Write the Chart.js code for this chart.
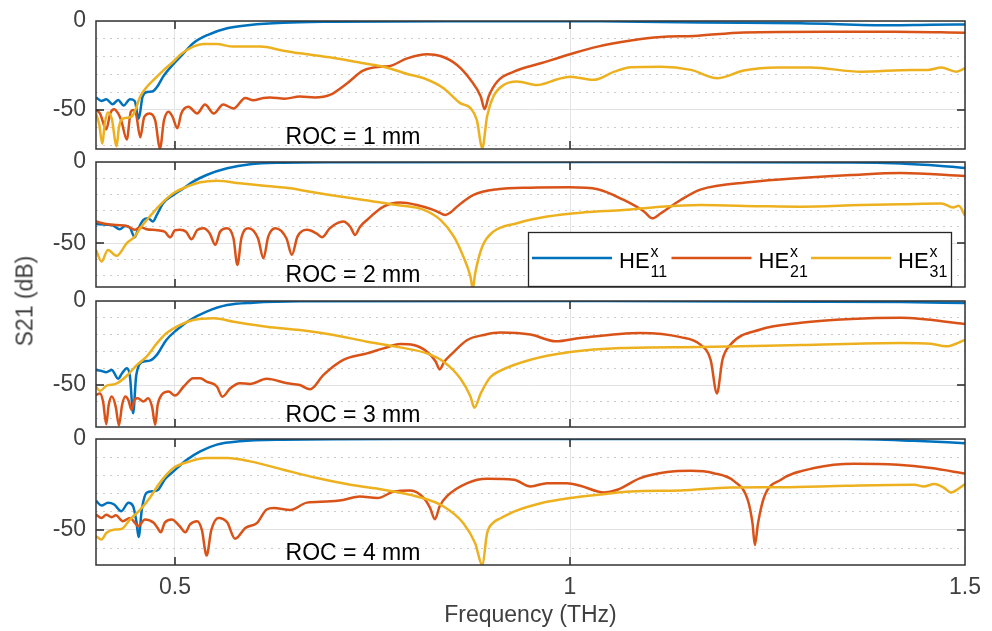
<!DOCTYPE html>
<html>
<head>
<meta charset="utf-8">
<script src="https://cdn.jsdelivr.net/npm/chart.js@4.4.1/dist/chart.umd.min.js"></script>
<style>
  body { margin: 0; background: #fff; }
  #wrap { position: relative; width: 992px; height: 631px; overflow: hidden; font-family: "Liberation Sans", Arial, sans-serif; }
  #wrap canvas { position: absolute; left: 0; }
  #ylabel { position: absolute; left: 25px; top: 301px; transform: translate(-50%, -50%) rotate(-90deg);
            font-size: 23px; color: #404040; white-space: nowrap; }
</style>
</head>
<body>
<div id="wrap">
  <canvas id="p1"></canvas>
  <canvas id="p2"></canvas>
  <canvas id="p3"></canvas>
  <canvas id="p4"></canvas>
  <div id="ylabel">S21 (dB)</div>
</div>
<script>
// ---- data: [frequency THz, S21 dB] ----
const roc1He11 = [[0.400,-43],[0.407,-45],[0.413,-44],[0.421,-46.8],[0.428,-44.4],[0.435,-47.5],[0.443,-44],[0.449,-45],[0.454,-55],[0.459,-42.5],[0.465,-39.9],[0.471,-39.7],[0.477,-37.3],[0.485,-31.3],[0.497,-24.7],[0.509,-19.1],[0.523,-12.5],[0.541,-7.9],[0.566,-4.1],[0.595,-2.2],[0.637,-0.95],[0.696,-0.4],[0.849,-0.1],[1.039,-0.2],[1.165,-0.9],[1.292,-1.3],[1.406,-2.4],[1.457,-2.1],[1.5,-2.0]];
const roc1He21 = [[0.400,-50],[0.405,-52],[0.413,-61],[0.418,-52],[0.423,-49.6],[0.428,-52],[0.432,-56],[0.439,-66.7],[0.444,-51],[0.447,-50],[0.451,-53],[0.456,-65.4],[0.461,-54],[0.468,-52],[0.475,-56],[0.481,-71.7],[0.486,-56],[0.492,-51],[0.497,-54],[0.503,-60.3],[0.508,-52],[0.517,-48.3],[0.528,-52],[0.538,-47],[0.549,-52],[0.561,-47],[0.574,-49.2],[0.589,-43.3],[0.599,-44.6],[0.612,-43.3],[0.620,-43],[0.639,-43.7],[0.658,-42.5],[0.677,-43],[0.696,-41.6],[0.718,-35],[0.738,-27.9],[0.760,-25.7],[0.770,-25.5],[0.794,-21],[0.819,-18.7],[0.836,-19.7],[0.857,-24.7],[0.874,-33],[0.887,-42.5],[0.892,-49.6],[0.897,-42.5],[0.908,-34],[0.929,-28.5],[0.963,-23.8],[1.0,-18.7],[1.035,-14.4],[1.077,-11],[1.115,-9],[1.157,-8.4],[1.220,-6.4],[1.326,-6],[1.410,-6],[1.5,-6.6]];
const roc1He31 = [[0.400,-52],[0.404,-58],[0.408,-69.1],[0.411,-58],[0.415,-51.5],[0.420,-55],[0.426,-70.4],[0.429,-60],[0.432,-55.6],[0.438,-54.5],[0.445,-53.8],[0.449,-51],[0.456,-42.5],[0.464,-37.3],[0.473,-33.1],[0.485,-27.9],[0.498,-22.8],[0.508,-18.5],[0.523,-14.4],[0.536,-12.9],[0.553,-13],[0.574,-14.4],[0.608,-14.4],[0.637,-16.7],[0.658,-18.2],[0.696,-20.4],[0.739,-23.8],[0.764,-25.7],[0.794,-29.8],[0.815,-32.2],[0.840,-37.8],[0.861,-46.2],[0.874,-49],[0.882,-55.6],[0.889,-71.5],[0.895,-53.7],[0.903,-42.5],[0.916,-36],[0.933,-34],[0.958,-36],[0.984,-32.8],[1.0,-31.3],[1.030,-33.1],[1.056,-28.5],[1.077,-26],[1.115,-25.7],[1.153,-27.5],[1.187,-32.2],[1.220,-27.9],[1.263,-26.2],[1.305,-26.2],[1.368,-28.5],[1.432,-27.5],[1.453,-27.5],[1.470,-26.2],[1.489,-28.5],[1.5,-26.6]];

const roc2He11 = [[0.400,-38.2],[0.413,-38.6],[0.421,-39],[0.430,-41.4],[0.437,-39.4],[0.443,-40.5],[0.449,-46.4],[0.453,-41.8],[0.460,-35.7],[0.466,-34.7],[0.472,-36.7],[0.477,-32.6],[0.485,-25.4],[0.498,-20.3],[0.511,-16.2],[0.523,-12.1],[0.540,-8],[0.566,-3.9],[0.595,-1.4],[0.637,-0.4],[0.696,-0.1],[1.039,0],[1.356,-0.3],[1.419,-1],[1.470,-2.5],[1.5,-3.7]];
const roc2He21 = [[0.400,-36.7],[0.413,-38.2],[0.426,-38.8],[0.439,-39.4],[0.449,-41.8],[0.456,-40],[0.464,-41.4],[0.478,-42],[0.487,-43],[0.494,-46.4],[0.500,-42],[0.506,-41.8],[0.514,-43],[0.521,-47.6],[0.528,-42],[0.536,-40.8],[0.544,-44],[0.551,-51],[0.557,-43],[0.566,-40.8],[0.574,-47],[0.579,-63.4],[0.584,-47],[0.593,-40.8],[0.605,-47],[0.612,-59.3],[0.618,-46],[0.627,-40.8],[0.641,-47],[0.648,-57.2],[0.655,-46],[0.667,-41.8],[0.679,-44],[0.686,-46.4],[0.696,-40.8],[0.713,-36.7],[0.722,-40],[0.728,-44.9],[0.734,-40],[0.743,-35.7],[0.764,-27.5],[0.785,-25],[0.806,-26.5],[0.827,-29.5],[0.836,-31.5],[0.842,-32.6],[0.849,-31],[0.857,-27.5],[0.878,-20.3],[0.908,-16.8],[0.950,-15.8],[1.0,-15.6],[1.035,-16.8],[1.068,-23.4],[1.094,-30.6],[1.104,-34.7],[1.115,-31.6],[1.140,-23.4],[1.165,-17],[1.229,-12.3],[1.292,-9.8],[1.356,-8],[1.419,-6.8],[1.5,-8.6]];
const roc2He31 = [[0.400,-54.2],[0.407,-61.3],[0.415,-54.2],[0.426,-57.8],[0.439,-50],[0.449,-46],[0.456,-40.8],[0.468,-33.6],[0.481,-26.5],[0.498,-19.3],[0.515,-15.2],[0.532,-12.5],[0.553,-11.5],[0.582,-13.1],[0.616,-14.8],[0.646,-16.2],[0.671,-18.3],[0.696,-20.3],[0.739,-23.4],[0.781,-26.5],[0.815,-29.5],[0.836,-35.7],[0.853,-46],[0.865,-58.3],[0.874,-70.6],[0.877,-78],[0.880,-68.5],[0.889,-52.1],[0.903,-42.9],[0.933,-37.7],[0.971,-33.6],[1.018,-31],[1.068,-29.5],[1.115,-27.5],[1.165,-26.5],[1.241,-27.2],[1.292,-27.5],[1.368,-26.5],[1.419,-26],[1.470,-25.5],[1.485,-28],[1.492,-27],[1.5,-33]];

const roc3He11 = [[0.400,-41.1],[0.406,-41.5],[0.413,-42.4],[0.420,-41],[0.428,-46.3],[0.433,-43],[0.439,-40],[0.443,-45],[0.447,-66.8],[0.451,-44],[0.460,-36.1],[0.468,-35.5],[0.477,-32.1],[0.489,-23.2],[0.502,-17.3],[0.519,-11.3],[0.540,-6.3],[0.566,-2.4],[0.599,-1],[0.658,-0.2],[1.039,0],[1.419,-0.6],[1.5,-1.2]];
const roc3He21 = [[0.400,-55.9],[0.405,-55],[0.409,-60],[0.413,-73.3],[0.416,-62],[0.420,-56.9],[0.425,-63],[0.429,-74],[0.433,-62],[0.437,-56.9],[0.441,-59],[0.445,-64.8],[0.449,-58.5],[0.453,-57.9],[0.460,-59.8],[0.466,-57.9],[0.471,-63],[0.475,-73.7],[0.478,-62],[0.483,-55.9],[0.492,-53.9],[0.500,-56.3],[0.511,-50.9],[0.523,-46],[0.532,-46],[0.540,-48],[0.553,-50.9],[0.560,-57],[0.570,-51.9],[0.582,-48.9],[0.595,-49.4],[0.616,-46.3],[0.642,-49],[0.658,-50],[0.671,-52.6],[0.688,-44],[0.713,-35.1],[0.743,-31.2],[0.764,-28.2],[0.785,-25.6],[0.802,-26.2],[0.819,-30.2],[0.830,-36],[0.835,-40.7],[0.841,-36],[0.849,-32.1],[0.870,-23.2],[0.891,-20.2],[0.912,-18.8],[0.950,-20],[0.982,-24],[1.013,-22],[1.089,-19],[1.140,-21.5],[1.165,-26],[1.178,-35],[1.186,-55],[1.193,-35],[1.203,-26],[1.241,-17],[1.292,-13],[1.356,-10.7],[1.419,-10],[1.5,-13.7]];
const roc3He31 = [[0.400,-51],[0.405,-53.5],[0.413,-50.5],[0.424,-49.5],[0.430,-48],[0.439,-44.5],[0.451,-38.5],[0.464,-33.1],[0.477,-25.2],[0.489,-19.2],[0.506,-14.3],[0.523,-11.3],[0.549,-10.3],[0.574,-12.3],[0.616,-15.3],[0.658,-17.3],[0.701,-20.2],[0.743,-24.2],[0.785,-27.6],[0.819,-31.2],[0.840,-36.1],[0.861,-46],[0.874,-56.9],[0.879,-63.5],[0.887,-55],[0.899,-45.4],[0.912,-41.5],[0.950,-35],[1.0,-30.4],[1.064,-28],[1.165,-27.4],[1.292,-26.2],[1.419,-25],[1.457,-25.5],[1.476,-27],[1.5,-23.2]];

const roc4He11 = [[0.400,-34],[0.407,-36.6],[0.415,-35.1],[0.423,-36],[0.432,-39.7],[0.441,-35.1],[0.447,-37],[0.451,-45],[0.454,-53.9],[0.458,-38.8],[0.464,-29.6],[0.473,-28.7],[0.479,-27.8],[0.487,-22.3],[0.498,-17.8],[0.515,-11.4],[0.532,-6.8],[0.553,-3.1],[0.582,-1.3],[0.637,-0.4],[0.785,0],[1.351,0],[1.435,-1],[1.5,-2.3]];
const roc4He21 = [[0.400,-41.6],[0.407,-43.4],[0.413,-41.6],[0.420,-43],[0.425,-42],[0.434,-45.2],[0.443,-43.4],[0.449,-46],[0.453,-48],[0.462,-44.3],[0.473,-46.1],[0.478,-49],[0.482,-51.3],[0.487,-46],[0.496,-44.3],[0.506,-48],[0.513,-51.3],[0.519,-47],[0.528,-45.2],[0.534,-50],[0.540,-64.1],[0.546,-50],[0.555,-43.4],[0.566,-45.8],[0.576,-54.8],[0.589,-48.9],[0.604,-46.1],[0.616,-38.8],[0.625,-38],[0.646,-39],[0.667,-35],[0.692,-34.4],[0.713,-33.5],[0.734,-31.6],[0.756,-32.5],[0.777,-28.9],[0.798,-28.3],[0.815,-32.5],[0.823,-38],[0.829,-44.1],[0.835,-37],[0.844,-31.6],[0.870,-24.3],[0.895,-21.9],[0.929,-22.4],[0.950,-26.1],[0.971,-24.3],[0.996,-24.3],[1.013,-25.7],[1.043,-29.4],[1.060,-27.9],[1.089,-21.5],[1.123,-18.2],[1.153,-17.5],[1.182,-18.8],[1.208,-23.3],[1.225,-33.5],[1.231,-46.3],[1.234,-58.3],[1.238,-46.3],[1.246,-31.6],[1.267,-22.4],[1.309,-16],[1.360,-13.6],[1.415,-14.2],[1.457,-16],[1.5,-19]];
const roc4He31 = [[0.400,-53.5],[0.407,-55.3],[0.413,-51.7],[0.424,-49.8],[0.432,-49.5],[0.443,-44.3],[0.456,-38.8],[0.468,-32.4],[0.481,-24],[0.498,-16],[0.519,-12.3],[0.540,-10.5],[0.566,-10.5],[0.595,-12.3],[0.637,-16.9],[0.680,-21.5],[0.722,-25.2],[0.764,-27.9],[0.806,-31.6],[0.840,-37.1],[0.865,-46.3],[0.880,-57.4],[0.889,-69.5],[0.895,-52],[0.903,-46],[0.912,-43.6],[0.929,-39.9],[0.963,-35.3],[1.0,-32.5],[1.035,-30.7],[1.077,-28.9],[1.140,-28.3],[1.203,-26.7],[1.267,-26.5],[1.351,-25.7],[1.436,-25.2],[1.448,-26.1],[1.461,-24.8],[1.474,-27],[1.482,-29.4],[1.491,-27.6],[1.5,-24.8]];

const panelLabels = ['ROC = 1 mm', 'ROC = 2 mm', 'ROC = 3 mm', 'ROC = 4 mm'];
const panelYMin = [-72, -77, -75, -69.3];
const xTicks = [0.5, 1, 1.5];
const xTickLabels = ['0.5', '1', '1.5'];
const yMajorTicks = [0, -50];
const modeSub = ['11', '21', '31'];
const modeColors = ['#0072BD', '#D95319', '#EDB120'];

// ---- layout ----
const plotTop = [21, 162, 301, 439];
const plotBottom = [149, 287, 427, 565];
const plotLeft = 96, plotRight = 965, W = 992, H = 631;
const PAD = 30; // room above/below each plot for the y tick labels
const FONT = '"Liberation Sans", Arial, sans-serif';

Chart.defaults.font.family = FONT;
Chart.defaults.color = '#404040';

function drawLegend(chart) {
  const ctx = chart.ctx, a = chart.chartArea;
  const w = 424, h = 55;
  const x0 = a.right - 13 - w, y0 = a.bottom - h;
  ctx.fillStyle = '#fff';
  ctx.fillRect(x0, y0, w, h);
  ctx.strokeStyle = '#262626';
  ctx.lineWidth = 1.3;
  ctx.strokeRect(x0 + 0.5, y0 + 0.5, w - 1, h - 1);
  const base = y0 + 36;
  chart.data.datasets.forEach((ds, i) => {
    const lx = x0 + 4 + i * 139.5;
    ctx.strokeStyle = ds.borderColor;
    ctx.lineWidth = 2.5;
    ctx.beginPath();
    ctx.moveTo(lx, base - 10);
    ctx.lineTo(lx + 80, base - 10);
    ctx.stroke();
    ctx.fillStyle = '#000';
    ctx.textAlign = 'left';
    ctx.textBaseline = 'alphabetic';
    ctx.font = '22px ' + FONT;
    ctx.fillText('HE', lx + 87, base);
    const tw = ctx.measureText('HE').width;
    ctx.font = '16px ' + FONT;
    ctx.fillText('x', lx + 88 + tw, base - 11);
    ctx.fillText(modeSub[i], lx + 88 + tw, base + 9);
  });
}

const panelDecor = {
  id: 'panelDecor',
  afterDatasetsDraw(chart, args, opts) {
    const ctx = chart.ctx, a = chart.chartArea;
    const xs = chart.scales.x, ys = chart.scales.y;
    ctx.save();
    ctx.strokeStyle = '#262626';
    ctx.lineWidth = 1.5;
    ctx.beginPath();
    xTicks.forEach(v => {
      if (v <= xs.min || v >= xs.max) return;
      const px = Math.round(xs.getPixelForValue(v));
      ctx.moveTo(px, a.top); ctx.lineTo(px, a.top + 8);
      ctx.moveTo(px, a.bottom); ctx.lineTo(px, a.bottom - 8);
    });
    yMajorTicks.forEach(v => {
      if (v <= ys.min || v >= ys.max) return;
      const py = Math.round(ys.getPixelForValue(v));
      ctx.moveTo(a.left, py); ctx.lineTo(a.left + 8, py);
      ctx.moveTo(a.right, py); ctx.lineTo(a.right - 8, py);
    });
    ctx.stroke();
    ctx.strokeStyle = '#333';
    ctx.lineWidth = 1.5;
    ctx.strokeRect(a.left, a.top, a.right - a.left, a.bottom - a.top);

    ctx.fillStyle = '#000';
    ctx.font = '23px ' + FONT;
    ctx.textAlign = 'left';
    ctx.textBaseline = 'alphabetic';
    ctx.fillText(opts.label, xs.getPixelForValue(0.64), a.bottom - 5);

    if (opts.legend) drawLegend(chart);
    ctx.restore();
  }
};

const allSeries = [
  [roc1He11, roc1He21, roc1He31],
  [roc2He11, roc2He21, roc2He31],
  [roc3He11, roc3He21, roc3He31],
  [roc4He11, roc4He21, roc4He31]
];

allSeries.forEach((series, i) => {
  const last = i === allSeries.length - 1;
  const canvas = document.getElementById('p' + (i + 1));
  const top = plotTop[i] - PAD;
  const bottom = last ? H : plotBottom[i] + PAD;
  canvas.width = W;
  canvas.height = bottom - top;
  canvas.style.top = top + 'px';

  new Chart(canvas, {
    type: 'line',
    data: {
      datasets: series.map((pts, k) => ({
        label: 'HE' + modeSub[k],
        data: pts.map(p => ({ x: p[0], y: p[1] })),
        borderColor: modeColors[k],
        borderWidth: 2.5,
        pointRadius: 0,
        fill: false,
        cubicInterpolationMode: 'monotone',
        order: 3 - k
      }))
    },
    options: {
      responsive: false,
      maintainAspectRatio: false,
      devicePixelRatio: 1,
      animation: false,
      events: [],
      layout: { padding: { top: PAD, right: W - plotRight, bottom: last ? 0 : PAD, left: 0 } },
      plugins: {
        legend: { display: false },
        tooltip: { enabled: false },
        panelDecor: { label: panelLabels[i], legend: i === 1 }
      },
      scales: {
        x: {
          type: 'linear',
          min: 0.4,
          max: 1.5,
          afterBuildTicks: s => { s.ticks = xTicks.map(v => ({ value: v })); },
          afterFit: s => { s.height = last ? H - plotBottom[i] : 0; },
          grid: { color: '#e4e4e4', lineWidth: 1, drawTicks: false },
          border: { display: false },
          ticks: {
            display: last,
            autoSkip: false,
            maxRotation: 0,
            padding: 9,
            font: { size: 23 },
            callback: (v, idx) => xTickLabels[idx]
          },
          title: {
            display: last,
            text: 'Frequency (THz)',
            font: { size: 23 },
            padding: { top: 0, bottom: 2 }
          }
        },
        y: {
          type: 'linear',
          min: panelYMin[i],
          max: 0,
          afterBuildTicks: s => {
            const t = [];
            for (let v = Math.ceil(panelYMin[i] / 10) * 10; v <= 0; v += 10) t.push({ value: v });
            s.ticks = t;
          },
          afterFit: s => { s.width = plotLeft; },
          grid: {
            drawTicks: false,
            lineWidth: 1,
            color: c => (c.tick && c.tick.value % 50 === 0) ? '#e2e2e2' : '#cdcdcd'
          },
          border: {
            display: false,
            dash: c => (c.tick && c.tick.value % 50 === 0) ? [] : [2, 5]
          },
          ticks: {
            autoSkip: false,
            padding: 10,
            font: { size: 23 },
            callback: v => yMajorTicks.includes(v) ? String(v) : ''
          }
        }
      }
    },
    plugins: [panelDecor]
  });
});
</script>
</body>
</html>
